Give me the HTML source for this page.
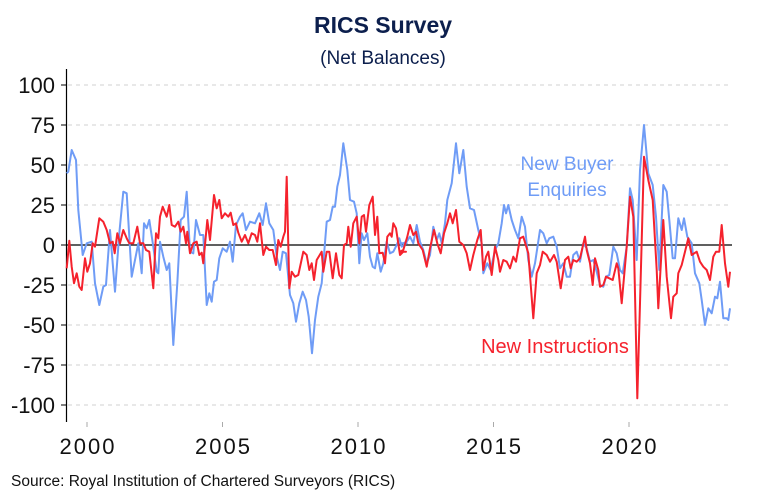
<!DOCTYPE html>
<html><head><meta charset="utf-8"><style>
body{margin:0;background:#fff;width:765px;height:500px;overflow:hidden}
svg{display:block}
text{font-family:"Liberation Sans",sans-serif}
</style></head><body>
<svg id="s" width="765" height="500" viewBox="0 0 765 500">
<text x="383" y="33" text-anchor="middle" font-size="23" font-weight="bold" fill="#0c1f4d">RICS Survey</text>
<text x="383" y="64" text-anchor="middle" font-size="19" fill="#0c1f4d">(Net Balances)</text>
<g id="grid" stroke="#d0d0d0" stroke-dasharray="4,4" stroke-width="1"></g>
<g id="ylab" font-size="22" fill="#111" text-anchor="end"></g>
<line x1="66.5" y1="69" x2="66.5" y2="422" stroke="#000" stroke-width="1.2"/>
<line x1="66" y1="245" x2="732" y2="245" stroke="#000" stroke-width="1.2"/>
<g id="xlab" font-size="22" fill="#111" text-anchor="middle" letter-spacing="2"></g>
<polyline id="blue" fill="none" stroke="#6f9cf6" stroke-width="2" stroke-linejoin="round"/>
<polyline id="red" fill="none" stroke="#f5222d" stroke-width="2" stroke-linejoin="round"/>
<text x="567" y="170" text-anchor="middle" font-size="19" fill="#6f9cf6">New Buyer</text>
<text x="567" y="196" text-anchor="middle" font-size="19" fill="#6f9cf6">Enquiries</text>
<text x="555" y="353" text-anchor="middle" font-size="20" fill="#f5222d">New Instructions</text>
<text x="11" y="486" font-size="15.5" fill="#111">Source: Royal Institution of Chartered Surveyors (RICS)</text>
</svg>
<script>
var ns="http://www.w3.org/2000/svg";
function el(t,a,p,txt){var e=document.createElementNS(ns,t);for(var k in a)e.setAttribute(k,a[k]);if(txt)e.textContent=txt;document.getElementById(p).appendChild(e);return e;}
for(var v=100;v>=-100;v-=25){var y=245-1.6*v;
 if(v!==0)el("line",{x1:68,y1:y,x2:732,y2:y},"grid");
 el("line",{x1:61,y1:y,x2:66,y2:y,stroke:"#000"},"ylab");
 el("text",{x:55,y:y+8},"ylab",String(v));}
[2000,2005,2010,2015,2020].forEach(function(yr,i){var x=87+i*135.5;
 el("line",{x1:x,y1:422,x2:x,y2:427,stroke:"#aaa"},"xlab");
 el("text",{x:x+1,y:454},"xlab",String(yr));});
function tr(arr,ox){var out=[];for(var i=0;i<arr.length;i+=2)out.push((ox+arr[i]/3).toFixed(1)+","+(70+arr[i+1]/3).toFixed(1));return out;}
var b1=[20,310,25,305,35,240,48,270,55,420,68,555,80,520,95,515,105,640,118,705,130,650,138,645,150,480,165,665,178,490,190,365,200,370,215,620,225,570,235,520,245,610,252,460,260,475,268,450,280,530,290,605,295,610,300,515,310,560,320,600,328,580,340,825,352,640,362,450,372,440,380,365,390,545,400,550,408,450,420,495,430,495,440,705,448,670,455,695,462,635,470,630,478,565,488,535,500,545,510,515,518,575,528,465,540,440,548,430,558,480,570,455,585,460,598,430,608,465,618,400,628,460,640,480,650,560,660,600,668,545,678,550,690,675,700,700,708,755,718,700,728,665,738,690,746,740,756,850,765,750,775,680,785,640,800,455,810,450,818,410,825,410,832,350,840,315,850,220,862,300,870,390,882,395,890,430,898,580,905,490,912,510,922,490,930,560,938,590,945,595,952,550,962,605,970,580,980,515,990,550,1000,545,1010,525,1018,505,1025,530,1040,520];
var b2=[0,520,10,520,20,515,30,500,40,520,50,465,60,515,70,540,80,580,90,555,100,470,110,510,118,490,125,520,135,460,142,390,155,340,168,220,178,310,190,240,200,350,210,415,222,420,235,480,245,520,250,610,262,580,272,600,285,540,295,520,305,460,312,405,318,430,325,405,335,450,345,480,355,505,365,440,375,470,385,570,395,620,405,580,420,480,430,490,440,520,448,505,460,500,470,530,480,595,490,580,500,620,510,620,520,555,530,545,540,575,550,520,560,535,570,575,580,570,590,605,600,645,610,650,618,620,628,615,640,530,650,550,660,600,668,610,680,530,690,355,698,390,710,570,720,300,732,165,745,310,758,345,768,440,778,600,790,345,800,365,808,450,818,565,825,565,835,445,845,480,852,445,862,500,875,520,885,610,898,640,905,690,915,765,925,715,935,730,945,680,952,685,960,635,970,745,980,745,985,750,990,715];
var r1=[20,595,28,512,35,590,42,640,50,610,58,650,65,660,75,565,82,605,90,580,98,520,105,530,118,445,130,455,140,480,150,520,158,515,164,550,172,490,180,520,190,480,200,505,208,520,220,520,232,470,240,520,250,520,258,540,268,545,280,655,288,490,295,505,300,440,308,410,320,440,328,405,335,465,345,470,355,455,362,485,370,470,378,520,382,485,390,550,400,520,410,515,418,555,425,548,430,580,442,450,450,510,462,375,470,415,478,390,485,445,495,430,505,440,512,428,520,465,528,460,535,488,545,515,555,495,565,520,575,490,585,495,592,515,600,460,610,555,618,530,628,540,638,540,648,585,655,510,662,530,670,500,675,485,680,320,688,655,695,605,705,620,715,615,730,545,740,555,748,600,755,580,762,630,770,570,785,545,790,605,800,545,808,545,818,625,828,550,838,615,845,625,852,525,860,520,865,470,872,530,880,460,890,440,898,520,905,440,912,435,918,485,928,405,938,380,945,495,952,440,958,550,968,548,975,580,982,500,990,490,995,500,1000,460,1008,475,1020,555,1030,545,1038,545];
var r2=[0,545,10,540,22,500,30,465,40,495,48,485,55,520,68,540,80,590,90,535,102,480,112,520,122,550,132,490,142,460,150,430,158,460,168,420,178,515,190,525,200,550,210,600,220,555,232,510,242,480,250,600,258,560,265,545,275,615,285,530,295,570,300,605,310,570,320,575,330,595,340,560,348,575,360,505,370,500,385,550,400,745,410,610,420,585,428,545,440,555,450,575,462,555,470,575,482,655,495,570,505,560,512,595,520,570,530,575,540,565,555,500,560,540,570,580,578,645,585,565,595,600,600,650,610,645,618,620,628,625,638,630,650,580,655,595,665,700,680,530,690,380,700,440,712,985,720,700,732,260,745,330,758,390,770,600,775,715,790,450,800,620,813,745,820,680,830,670,835,610,845,585,855,545,865,505,875,555,890,545,900,575,910,590,920,600,930,630,940,560,948,545,958,545,965,465,975,580,985,650,990,605];
document.getElementById("blue").setAttribute("points",tr(b1,60).concat(tr(b2,400)).join(" "));
document.getElementById("red").setAttribute("points",tr(r1,60).concat(tr(r2,400)).join(" "));
</script>
</body></html>
